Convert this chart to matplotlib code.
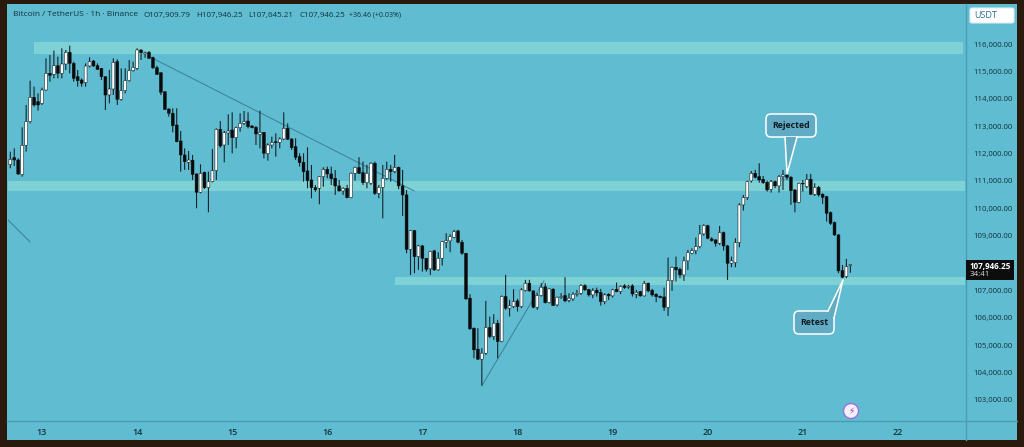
import numpy as np
import matplotlib
matplotlib.use('Agg')
import matplotlib.pyplot as plt
from matplotlib.patches import FancyBboxPatch, Polygon, Rectangle, Circle

plt.rcParams['font.family'] = ['Open Sans', 'DejaVu Sans']

# hourly candles
opens = [
    111594,111850,111765,111229,112300,113164,114053,113895,113834,114320,
    114929,114892,115209,114929,115270,115696,115294,114807,114686,114588,
    115197,115379,115209,115112,114807,114138,114357,115355,113980,114296,
    114661,115026,115112,115781,115640,115695,115501,115135,114953,114259,
    113626,113468,113042,112458,111947,111679,111752,111253,110584,111314,
    110754,110973,111375,112884,112312,112750,112860,112580,112945,113103,
    113188,113006,112957,112702,112775,111996,112312,112434,112410,112531,
    112922,112532,112252,111887,111680,111364,111035,110755,110731,111157,
    111425,111254,111096,110816,110634,110731,110390,111279,111486,111303,
    110938,110914,111644,110548,110768,111096,111425,111340,111498,110816,
    110488,108504,109185,108236,108626,108175,107788,108445,107751,108177,
    108761,108810,108944,109175,108761,108360,106717,105621,104855,104490,
    104709,105646,105317,105804,105134,106778,106352,106412,106619,106412,
    106996,107264,106984,106388,106814,107130,106558,107045,106473,106741,
    106814,106642,106691,106862,106898,107178,107032,106837,107008,106922,
    106594,106862,106801,107044,106959,107166,107117,107166,106862,106959,
    106801,107263,107008,106862,106789,106764,106387,107360,107847,107774,
    107567,108079,108358,108456,108602,109064,109368,108882,108845,108724,
    109113,108626,107993,108017,108748,110123,110391,111000,111279,111158,
    111060,110951,110695,110975,110817,111158,111218,111133,110671,110220,
    110914,110792,111060,110513,110768,110513,110427,109843,109478,109028,
    107726,107506,107909.79,
]
closes = [
    111789,111765,111254,112300,113164,114053,113773,113773,114320,114929,
    114856,115209,114929,115270,115696,115294,114746,114661,114564,115197,
    115355,115197,115075,114807,114138,114357,115331,113980,114296,114661,
    115026,115148,115781,115684,115680,115476,115135,114892,114235,113614,
    113468,113018,112434,111947,111703,111764,111241,110584,111278,110754,
    110973,111375,112884,112275,112762,112823,112580,112945,113103,113164,
    112982,112945,112714,112775,112008,112312,112397,112397,112531,112920,
    112520,112216,111863,111668,111340,111011,110755,110670,111157,111425,
    111254,111084,110816,110634,110731,110390,111279,111498,111279,110938,
    111279,111644,110548,110768,111096,111425,111340,111498,110816,110488,
    108504,109185,108236,108626,108175,107774,108420,107751,108177,108785,
    108822,108968,109151,108761,108360,106692,105597,104830,104490,104709,
    105646,105317,105804,105134,106778,106352,106437,106595,106412,107021,
    107264,106984,106388,106814,107118,106558,107057,106449,106753,106778,
    106619,106716,106862,106898,107178,107020,106837,106995,106910,106594,
    106837,106801,107020,106959,107141,107105,107154,106874,106935,106801,
    107263,106983,106837,106776,106740,106387,107360,107847,107750,107567,
    108079,108383,108456,108602,109064,109369,108906,108821,108724,109113,
    108626,107993,108079,108748,110123,110391,110975,111279,111133,111036,
    110938,110671,110975,110817,111158,111218,111133,110646,110220,110914,
    110890,111060,110513,110768,110488,110403,109819,109454,109028,107713,
    107482,107872,107946.25,
]
highs = [
    112069,112191,111826,112957,113773,114661,114442,114199,114406,115477,
    115598,115757,115537,115842,115781,115939,115355,115051,114746,115294,
    115513,115416,115294,115112,114807,115051,115477,115440,115112,115112,
    115416,115355,115842,115805,115720,115744,115537,115208,114953,114259,
    113651,113651,113651,112823,112190,112093,111947,111278,111606,111338,
    111338,112166,112920,113188,112823,113432,113505,112982,113468,113553,
    113505,113042,113006,113566,112775,112373,112616,112738,112592,113505,
    113104,112557,112557,112009,112009,112228,111583,110853,111181,111498,
    111522,111522,111400,111035,110768,110853,111303,111522,111863,111705,
    111583,111680,111705,110853,111583,111705,111583,111948,111522,111400,
    110670,109210,109210,108662,108662,108175,108445,108481,108396,108810,
    109090,109053,109211,109211,108846,108360,106863,105646,105621,104891,
    106619,106047,106133,105926,106814,107568,106656,107045,106692,107082,
    107386,107386,106996,106899,107264,107264,107082,107082,106778,106899,
    107483,106898,106935,107020,107227,107227,107056,107081,107105,107056,
    106898,106898,107056,107287,107178,107227,107202,107227,107020,106983,
    107348,107287,107056,106898,106813,107105,108200,107872,108237,107835,
    108237,108480,108541,108930,109393,109417,109393,108943,108870,109356,
    109150,108663,108237,108906,110184,110488,111011,111364,111401,111644,
    111182,111011,111036,111011,111218,111401,111766,111182,110695,110938,
    111036,111255,111255,110914,110817,110549,110452,109880,109515,109052,
    107932,108152,107946.25,
]
lows = [
    111461,111546,111217,111156,112069,113103,113712,113566,113773,114296,
    114625,114746,114746,114746,115051,114929,114625,114442,114442,114442,
    115148,115172,115051,114686,113590,113834,114138,113773,113931,114199,
    114625,114990,115051,115416,115500,115470,115087,114868,114137,113590,
    113346,112774,112410,111338,111399,111399,111034,110000,110547,110706,
    109854,110949,111034,112215,111679,112312,112008,112190,112799,113042,
    112920,112920,112312,112190,111825,111740,112190,111886,112190,112495,
    112496,112131,111765,111522,110974,110731,110366,110609,110147,110792,
    111096,110853,110488,110609,110488,110366,110366,111011,111254,110853,
    110731,110853,110488,110366,109636,111035,110974,111279,110695,109721,
    108358,107567,107628,107749,107689,107689,107568,107715,107715,107909,
    108542,108396,108907,108725,108299,106656,105560,104526,104465,103528,
    104648,105256,105195,104526,105110,106291,106047,106352,106230,106352,
    106960,106960,106352,106291,106778,106522,106522,106437,106412,106692,
    106570,106570,106618,106776,106837,106983,106776,106716,106776,106448,
    106496,106655,106740,106935,106862,107056,107056,106776,106716,106776,
    106776,106935,106776,106570,106716,106253,106070,106983,107324,107446,
    107348,107750,108322,108322,108541,109003,108870,108784,108602,108663,
    108456,107385,107847,107847,108578,109916,110306,110938,111097,110938,
    110890,110610,110573,110732,110573,110671,111036,110123,109855,110184,
    110610,110732,110488,110452,110427,110160,109515,109393,108991,107628,
    107446,107446,107645.21,
]

day_labels = ['13', '14', '15', '16', '17', '18', '19', '20', '21', '22']
# 108,000 sits behind the last-price tag, the picture doesn't show it
price_ticks = [p for p in range(103000, 117000, 1000) if p != 108000]

# zones: hour from, hour to, price low, price high
zones = [
    (-2, 232.5, 115635, 116073),
    (-9, 233, 110635, 111000),
    (89, 233, 107200, 107500),
]
# trend lines: hour, price, hour, price
trends = [
    (27.3, 115525, 93.9, 110635),
    (111, 103517, 126.7, 107350),
    (-8.6, 109576, -3, 108773),
]

BG = '#5fbcd1'
ZONE = '#7ed1d4'
FRAME = '#2a1a0e'
AXLINE = '#4c9ab4'
TXT = '#12323c'

W, H = 1024, 447
fig = plt.figure(figsize=(W / 100, H / 100), dpi=100, facecolor=FRAME)

# teal panel behind everything
back = fig.add_axes([0, 0, 1, 1])
back.set_xlim(0, W)
back.set_ylim(H, 0)
back.axis('off')
back.add_patch(Rectangle((7, 4), 1010, 436, color=BG, lw=0))
back.plot([966, 966], [4, 440], color=AXLINE, lw=1)
back.plot([7, 1017], [421, 421], color=AXLINE, lw=1)

# chart axes, px 8..966 and 5..421
ax = fig.add_axes([8 / W, (H - 421) / H, 958 / W, 416 / H])
ax.patch.set_alpha(0)
hours = np.arange(len(opens)) - 8
ax.set_xlim((8 - 42) / 3.9625, (966 - 42) / 3.9625)
ax.set_ylim(116000 - (421 - 44) * 36.52, 116000 + (44 - 5) * 36.52)

for x0, x1, p0, p1 in zones:
    ax.add_patch(Rectangle((x0, p0), x1 - x0, p1 - p0, color=ZONE, lw=0, zorder=1))
for x0, p0, x1, p1 in trends:
    ax.plot([x0, x1], [p0, p1], color='#3d7f94', lw=0.7, zorder=2)

o = np.array(opens)
c = np.array(closes)
up = c >= o
wicks = ax.vlines(hours, lows, highs, color='#14242a', lw=0.8, zorder=3)
wicks.set_snap(False)
bars = ax.bar(hours, np.abs(c - o), bottom=np.minimum(o, c), width=0.72,
              color=np.where(up, 'white', '#0a0a0a'), edgecolor='#0a0a0a', linewidth=0.35, zorder=4)
for b in bars:
    b.set_snap(False)

ax.set_xticks(np.arange(len(day_labels)) * 24)
ax.set_xticklabels(day_labels, fontsize=6.5, color=TXT, fontweight='semibold')
ax.yaxis.tick_right()
ax.set_yticks(price_ticks)
ax.set_yticklabels([f'{p:,.2f}' for p in price_ticks], fontsize=5.6, color=TXT)
ax.tick_params(axis='both', length=0)
ax.tick_params(axis='x', pad=5)
ax.tick_params(axis='y', pad=5)
for s in ax.spines.values():
    s.set_visible(False)

# overlay for header, labels and callouts
over = fig.add_axes([0, 0, 1, 1])
over.set_xlim(0, W)
over.set_ylim(H, 0)
over.axis('off')

over.text(13, 15, 'Bitcoin / TetherUS · 1h · Binance', fontsize=6.0, color=TXT, va='center')
for x, s in [(143, 'O107,909.79'), (196, 'H107,946.25'), (248, 'L107,645.21'), (299, 'C107,946.25')]:
    over.text(x, 15, s, fontsize=5.8, color=TXT, va='center')
over.text(349, 15, '+36.46 (+0.03%)', fontsize=5.0, color=TXT, va='center')

over.add_patch(FancyBboxPatch((970, 8), 44, 15, boxstyle='round,pad=0,rounding_size=2',
                              fc='white', ec='#d8eef4', lw=0.8))
over.text(986, 15.5, 'USDT', fontsize=6.5, color='#2a6ea6', ha='center', va='center')

over.add_patch(Rectangle((966, 260), 48, 20, color='#0d0d0d', lw=0))
over.text(970, 266, '107,946.25', fontsize=5.8, color='white', va='center', fontweight='bold')
over.text(970, 274.5, '34:41', fontsize=5.8, color='#dddddd', va='center')


def callout(box, tip, base, text):
    x0, y0, x1, y1 = box
    over.add_patch(FancyBboxPatch((x0, y0), x1 - x0, y1 - y0, boxstyle='round,pad=0,rounding_size=5',
                                  fc='#62abc5', ec='white', lw=1.1, zorder=5))
    over.add_patch(Polygon([base[0], tip, base[1]], closed=True, fc='#62abc5', ec='none', zorder=6))
    over.plot([base[0][0], tip[0], base[1][0]], [base[0][1], tip[1], base[1][1]],
              color='white', lw=1.1, zorder=7)
    over.text((x0 + x1) / 2, (y0 + y1) / 2, text, fontsize=6.3, color='#0c1c22', ha='center',
              va='center', fontweight='bold', zorder=8)


callout((766, 114, 816, 137), (787, 174), [(785, 137), (797, 137)], 'Rejected')
callout((794, 311, 834, 334), (843, 280), [(828, 311), (834, 318)], 'Retest')

over.add_patch(Circle((851, 411), 7.5, fc='#f3f0fb', ec='#9b6fe0', lw=1))
over.text(851, 411, '⚡', fontsize=6.5, color='#a02fe0', ha='center', va='center',
          family=['DejaVu Sans'])

fig.savefig('out.png', dpi=100, facecolor=FRAME)
